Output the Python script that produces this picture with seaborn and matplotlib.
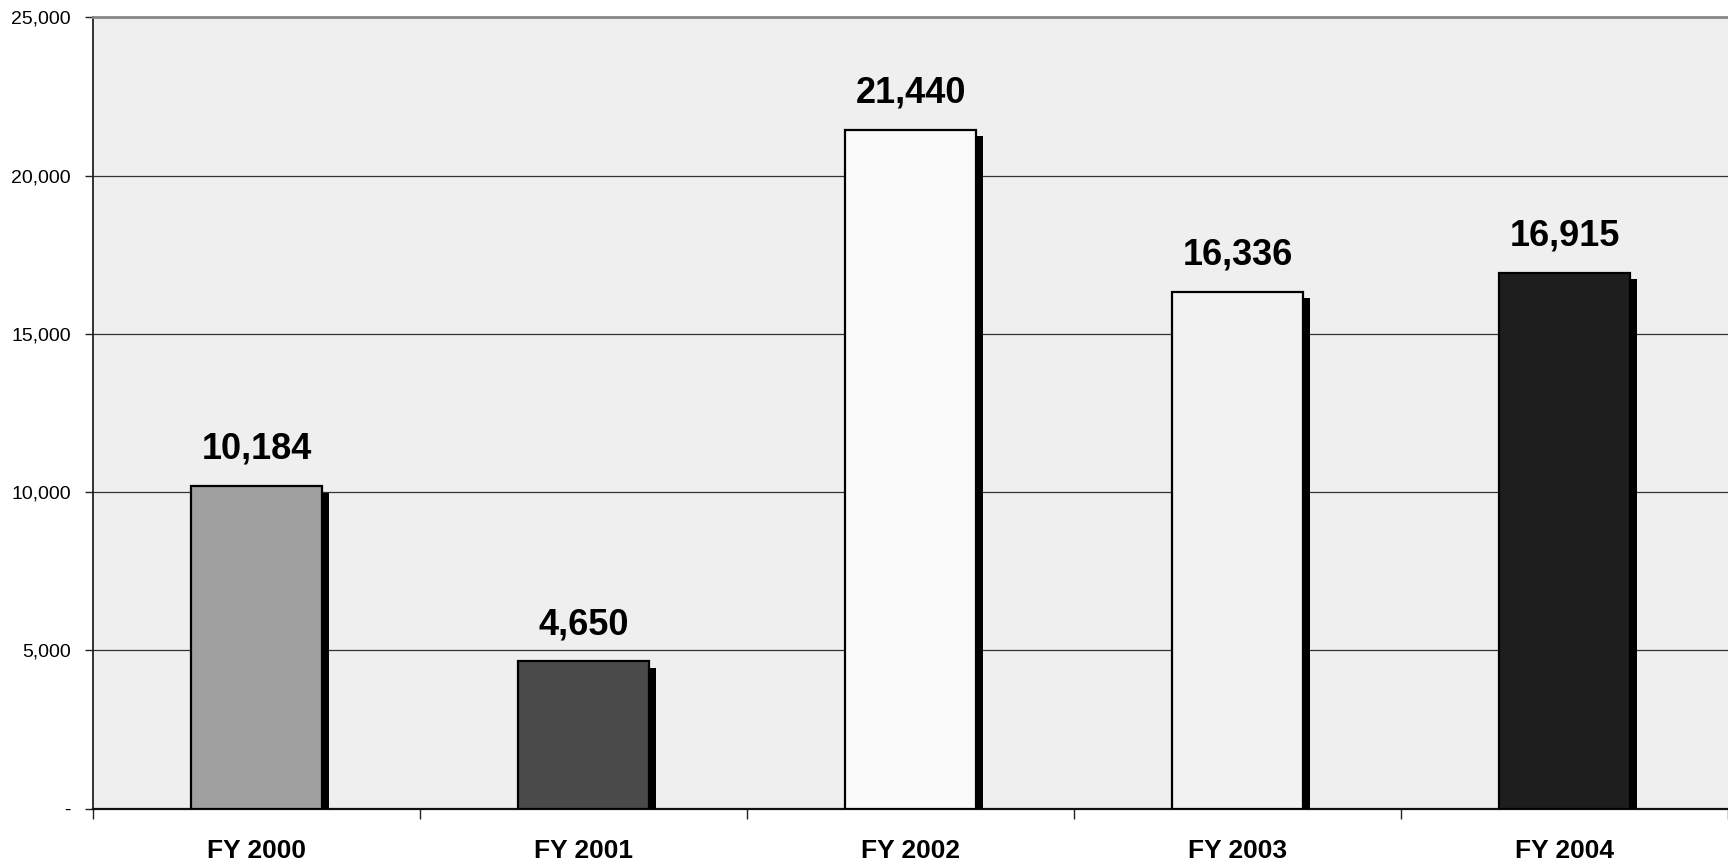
import matplotlib
matplotlib.use("Agg")
import matplotlib.pyplot as plt
import matplotlib.ticker as ticker
import matplotlib.patheffects as pe
import seaborn as sns
import pandas as pd

# dados
anos = ["FY 2000", "FY 2001", "FY 2002", "FY 2003", "FY 2004"]
valores = [10184, 4650, 21440, 16336, 16915]
cores = ["#a0a0a0", "#4a4a4a", "#fafafa", "#f2f2f2", "#1e1e1e"]
y_ticks = [0, 5000, 10000, 15000, 20000, 25000]

df = pd.DataFrame({"ano": anos, "valor": valores})

sns.set_style("white")
plt.rcParams["font.family"] = ["Liberation Sans", "DejaVu Sans"]
plt.rcParams["text.color"] = "black"
plt.rcParams["xtick.color"] = "black"
plt.rcParams["ytick.color"] = "black"

fig = plt.figure(figsize=(17.28, 8.64), dpi=100)
ax = fig.add_axes([0.054, 0.064, 0.946, 0.916])
ax.set_facecolor("#efefef")

sns.barplot(data=df, x="ano", y="valor", hue="ano", palette=cores, legend=False,
            width=0.4, edgecolor="black", linewidth=1.6, ax=ax, zorder=3)

# sombra preta deslocada para a direita/baixo
for barra in ax.patches:
    barra.set_path_effects([pe.SimplePatchShadow(offset=(5, -4.5), shadow_rgbFace="black", alpha=1.0),
                            pe.Normal()])

for i, v in enumerate(valores):
    ax.annotate(f"{v:,}", (i, v), xytext=(0, 14), textcoords="offset points",
                ha="center", va="bottom", fontsize=26, fontweight="bold", color="black", zorder=5)

ax.set_ylim(0, 25000)
ax.set_xlim(-0.5, 4.5)
ax.yaxis.set_major_locator(ticker.FixedLocator(y_ticks))
ax.yaxis.set_major_formatter(ticker.FuncFormatter(lambda v, p: "-" if v == 0 else f"{int(v):,}"))
ax.tick_params(axis="y", labelsize=14, length=6, width=1, direction="out", left=True, pad=10,
               color="#222222", labelcolor="black")

# ticks nas divisas das categorias, rotulos no centro
ax.xaxis.set_major_locator(ticker.FixedLocator([-0.5, 0.5, 1.5, 2.5, 3.5, 4.5]))
ax.xaxis.set_major_formatter(ticker.NullFormatter())
ax.xaxis.set_minor_locator(ticker.FixedLocator(range(len(anos))))
ax.xaxis.set_minor_formatter(ticker.FixedFormatter(anos))
ax.tick_params(axis="x", which="major", length=7, width=1, direction="out", bottom=True, color="#222222")
ax.tick_params(axis="x", which="minor", length=0, pad=22, labelsize=19, labelcolor="black")
for lbl in ax.get_xticklabels(minor=True):
    lbl.set_fontweight("bold")
ax.set_xlabel("")
ax.set_ylabel("")

ax.yaxis.grid(True, color="#333333", linewidth=0.9, zorder=1)
ax.set_axisbelow(True)
ax.spines["top"].set_color("#888888")
ax.spines["top"].set_linewidth(2)
ax.spines["left"].set_color("#222222")
ax.spines["left"].set_linewidth(1.3)
ax.spines["bottom"].set_color("#111111")
ax.spines["bottom"].set_linewidth(1.6)
ax.spines["right"].set_visible(False)

fig.savefig("out.png", dpi=100)
